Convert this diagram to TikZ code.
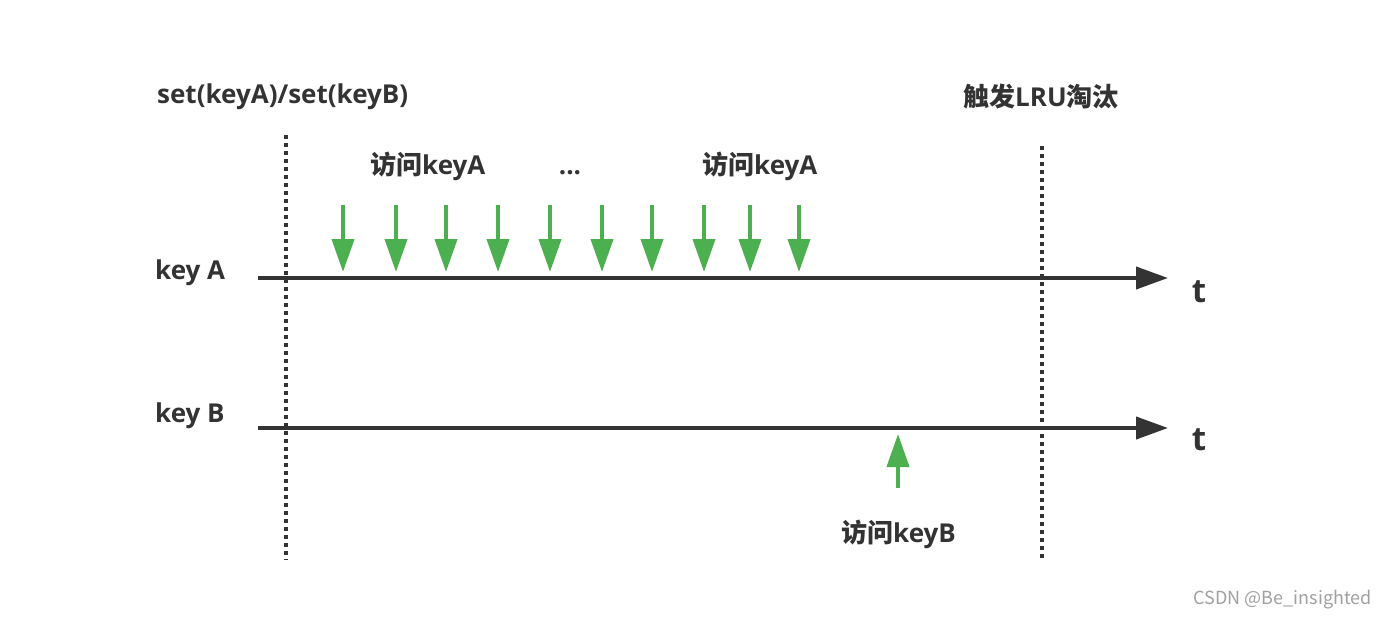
\documentclass[tikz,border=0pt]{standalone}
\usepackage{fontspec}
\setmainfont{Open Sans}
\newfontfamily\cjk{Noto Sans CJK SC}
\usetikzlibrary{arrows.meta}
\definecolor{ink}{HTML}{333333}
\definecolor{grn}{HTML}{4CAF50}
\definecolor{wm}{HTML}{A0A0A0}
\tikzset{
  lbl/.style={text=ink,font=\bfseries\fontsize{26}{28}\selectfont,inner sep=0pt},
  tlbl/.style={text=ink,font=\bfseries\fontsize{33}{35}\selectfont,inner sep=0pt},
  timeline/.style={draw=ink,line width=4pt,-{Triangle[length=32pt,width=22pt]}},
  marker/.style={draw=ink,line width=3.5pt,dash pattern=on 4pt off 4pt},
  hit/.style={draw=grn,line width=4pt,-{Triangle[length=33pt,width=22pt]}},
}
\begin{document}
\begin{tikzpicture}[x=1pt,y=-1pt]
\useasboundingbox (0,0) rectangle (1386,622);
% timelines
\coordinate (a0) at (258,278); \coordinate (a1) at (1168,278);
\coordinate (b0) at (258,428); \coordinate (b1) at (1168,428);
\draw[timeline] (a0) -- (a1);
\draw[timeline] (b0) -- (b1);
% markers
\coordinate (m0) at (286,135); \coordinate (m1) at (286,560);
\coordinate (n0) at (1042,146); \coordinate (n1) at (1042,560);
\draw[marker] (m0) -- (m1);
\draw[marker] (n0) -- (n1);
% labels
\node[lbl,anchor=west] (set) at (157,97) {set(keyA)/set(keyB)};
\node[lbl,anchor=west] (lru) at (963,97) {{\cjk 触发}LRU{\cjk 淘汰}};
\node[lbl,anchor=west] (ka) at (155,273) {key A};
\node[lbl,anchor=west] (kb) at (155,416) {key B};
\node[lbl,anchor=west] (va1) at (370,166) {{\cjk 访问}keyA};
\node[lbl] (dots) at (570,173) {...};
\node[lbl,anchor=west] (va2) at (702,166) {{\cjk 访问}keyA};
\node[lbl,anchor=west] (vb) at (841,534) {{\cjk 访问}keyB};
\node[tlbl] (ta) at (1199,292) {t};
\node[tlbl] (tb) at (1199,440) {t};
\node[text=wm,font=\cjk\fontsize{18}{20}\selectfont,inner sep=0pt,anchor=east] (wmk) at (1372,600) {CSDN @Be\_insighted};
% access arrows on key A
\foreach \x [count=\i] in {343,396,446,498,550,602,652,704,750,799} {
  \coordinate (h\i) at (\x,205);
  \coordinate (g\i) at (\x,272);
  \draw[hit] (h\i) -- (g\i);
}
% access arrow on key B
\coordinate (u0) at (898,488); \coordinate (u1) at (898,434);
\draw[hit] (u0) -- (u1);
\end{tikzpicture}
\end{document}
